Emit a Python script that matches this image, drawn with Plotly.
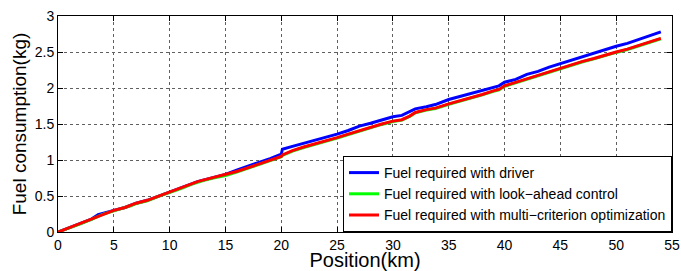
import plotly.graph_objects as go

pos = [0, 1, 2, 3, 3.6, 4, 5, 6, 6.5, 7, 8, 9, 10, 11, 12, 12.5, 13, 14, 15, 16, 17, 18, 19, 20, 20.1,
       21, 22, 23, 24, 25, 26, 27, 28, 29, 30, 30.8, 31.5, 32, 33, 33.8, 35, 36, 37, 38, 39, 39.5,
       40, 41, 42, 43, 44, 45, 46, 47, 48, 49, 50, 51, 52, 53, 54]

driver = [0, 0.06, 0.12, 0.18, 0.24, 0.26, 0.30, 0.34, 0.37, 0.40, 0.44, 0.50, 0.55, 0.61, 0.67, 0.70, 0.72, 0.76, 0.80, 0.86, 0.91, 0.97, 1.02, 1.08, 1.15,
          1.19, 1.23, 1.27, 1.31, 1.36, 1.41, 1.47, 1.51, 1.56, 1.60, 1.62, 1.67, 1.71, 1.74, 1.77, 1.84, 1.88, 1.92, 1.97, 2.01, 2.03,
          2.08, 2.12, 2.19, 2.23, 2.29, 2.34, 2.39, 2.44, 2.49, 2.54, 2.58, 2.62, 2.67, 2.72, 2.78]

multi = [0, 0.06, 0.12, 0.18, 0.22, 0.25, 0.30, 0.34, 0.37, 0.40, 0.44, 0.50, 0.55, 0.61, 0.67, 0.70, 0.72, 0.76, 0.79, 0.84, 0.89, 0.94, 0.99, 1.05, 1.07,
         1.13, 1.18, 1.22, 1.26, 1.31, 1.36, 1.41, 1.46, 1.50, 1.54, 1.56, 1.61, 1.66, 1.70, 1.72, 1.78, 1.82, 1.86, 1.91, 1.96, 1.98,
         2.03, 2.08, 2.13, 2.17, 2.22, 2.27, 2.32, 2.37, 2.41, 2.46, 2.50, 2.54, 2.59, 2.64, 2.69]

lookahead = [v - 0.006 if v > 0 else 0 for v in multi]

names = ["Fuel required with driver",
         "Fuel required with look\u2212ahead control",
         "Fuel required with multi\u2212criterion optimization"]

fig = go.Figure()
fig.add_trace(go.Scatter(x=pos, y=driver, mode="lines", name=names[0],
                         line=dict(color="#0000ff", width=3)))
fig.add_trace(go.Scatter(x=pos, y=lookahead, mode="lines", name=names[1],
                         line=dict(color="#00ff00", width=3)))
fig.add_trace(go.Scatter(x=pos, y=multi, mode="lines", name=names[2],
                         line=dict(color="#ff0000", width=3)))

axis_common = dict(showline=True, linecolor="black", linewidth=1, mirror="ticks",
                   ticks="inside", ticklen=5, tickcolor="black", automargin=False,
                   showgrid=True, gridcolor="#606060", griddash="dot", gridwidth=1,
                   zeroline=False, tickfont=dict(size=14, color="black"))

fig.update_layout(
    width=681, height=271,
    margin=dict(l=58, r=9, t=16, b=39),
    paper_bgcolor="white", plot_bgcolor="white",
    font=dict(family="Liberation Sans, Arial, sans-serif", color="black"),
    xaxis=dict(range=[0, 55], tickvals=[0, 5, 10, 15, 20, 25, 30, 35, 40, 45, 50, 55],
               title=dict(text="Position(km)", font=dict(size=20), standoff=0), **axis_common),
    yaxis=dict(range=[0, 3], tickvals=[0, 0.5, 1, 1.5, 2, 2.5, 3],
               ticktext=["0", "0.5", "1", "1.5", "2", "2.5", "3"],
               title=dict(text="Fuel consumption(kg)", font=dict(size=19), standoff=3), **axis_common),
    legend=dict(x=1, y=0, xanchor="right", yanchor="bottom", bgcolor="white",
                bordercolor="black", borderwidth=1, font=dict(size=14),
                tracegroupgap=0, itemwidth=30),
    showlegend=True,
)

fig.write_html("out.html", config={"displayModeBar": False},
               post_script="document.body.style.margin='0';")
